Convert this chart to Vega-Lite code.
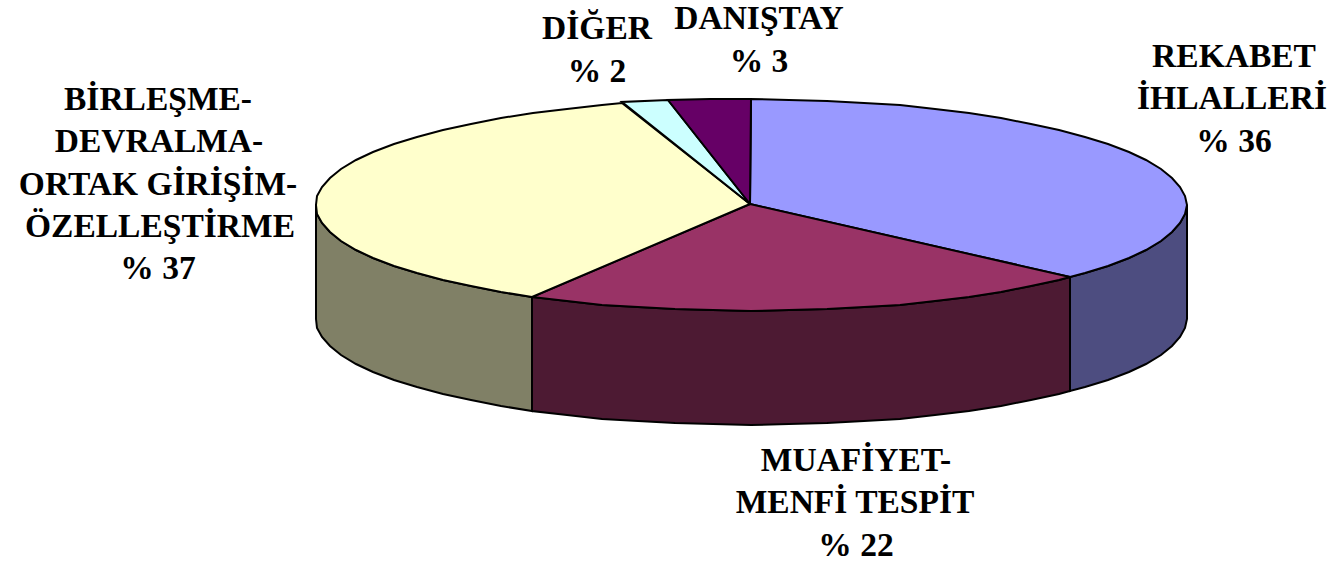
{"$schema":"https://vega.github.io/schema/vega-lite/v6.json","width":1333,"height":564,"padding":0,"autosize":{"type":"fit","contains":"padding"},"background":"white","view":{"stroke":null},"datasets":{"pie":[
{"p":"w1","n":1,"x":1187,"y":205},{"p":"w1","n":2,"x":1185,"y":214},{"p":"w1","n":3,"x":1180,"y":223},{"p":"w1","n":4,"x":1172,"y":232},{"p":"w1","n":5,"x":1161,"y":241},{"p":"w1","n":6,"x":1146,"y":250},{"p":"w1","n":7,"x":1129,"y":258},{"p":"w1","n":8,"x":1108,"y":266},{"p":"w1","n":9,"x":1085,"y":273},{"p":"w1","n":10,"x":1070,"y":277},{"p":"w1","n":11,"x":1070,"y":391},{"p":"w1","n":12,"x":1085,"y":387},{"p":"w1","n":13,"x":1108,"y":380},{"p":"w1","n":14,"x":1129,"y":372},{"p":"w1","n":15,"x":1146,"y":364},{"p":"w1","n":16,"x":1161,"y":355},{"p":"w1","n":17,"x":1172,"y":346},{"p":"w1","n":18,"x":1180,"y":337},{"p":"w1","n":19,"x":1185,"y":328},{"p":"w1","n":20,"x":1187,"y":319},{"p":"w1","n":21,"x":1187,"y":205},
{"p":"w2","n":1,"x":1070,"y":277},{"p":"w2","n":2,"x":1059,"y":280},{"p":"w2","n":3,"x":1031,"y":286},{"p":"w2","n":4,"x":1001,"y":292},{"p":"w2","n":5,"x":969,"y":297},{"p":"w2","n":6,"x":935,"y":301},{"p":"w2","n":7,"x":900,"y":305},{"p":"w2","n":8,"x":864,"y":307},{"p":"w2","n":9,"x":827,"y":309},{"p":"w2","n":10,"x":789,"y":310},{"p":"w2","n":11,"x":751,"y":311},{"p":"w2","n":12,"x":713,"y":310},{"p":"w2","n":13,"x":675,"y":309},{"p":"w2","n":14,"x":638,"y":307},{"p":"w2","n":15,"x":602,"y":305},{"p":"w2","n":16,"x":567,"y":301},{"p":"w2","n":17,"x":532,"y":297},{"p":"w2","n":18,"x":532,"y":411},{"p":"w2","n":19,"x":567,"y":415},{"p":"w2","n":20,"x":602,"y":419},{"p":"w2","n":21,"x":638,"y":421},{"p":"w2","n":22,"x":675,"y":423},{"p":"w2","n":23,"x":713,"y":424},{"p":"w2","n":24,"x":751,"y":425},{"p":"w2","n":25,"x":789,"y":424},{"p":"w2","n":26,"x":827,"y":423},{"p":"w2","n":27,"x":864,"y":421},{"p":"w2","n":28,"x":900,"y":419},{"p":"w2","n":29,"x":935,"y":415},{"p":"w2","n":30,"x":969,"y":411},{"p":"w2","n":31,"x":1001,"y":406},{"p":"w2","n":32,"x":1031,"y":400},{"p":"w2","n":33,"x":1059,"y":394},{"p":"w2","n":34,"x":1070,"y":391},{"p":"w2","n":35,"x":1070,"y":277},
{"p":"w3","n":1,"x":532,"y":297},{"p":"w3","n":2,"x":501,"y":292},{"p":"w3","n":3,"x":471,"y":286},{"p":"w3","n":4,"x":443,"y":280},{"p":"w3","n":5,"x":417,"y":273},{"p":"w3","n":6,"x":394,"y":266},{"p":"w3","n":7,"x":373,"y":258},{"p":"w3","n":8,"x":356,"y":250},{"p":"w3","n":9,"x":341,"y":241},{"p":"w3","n":10,"x":330,"y":232},{"p":"w3","n":11,"x":322,"y":223},{"p":"w3","n":12,"x":317,"y":214},{"p":"w3","n":13,"x":316,"y":205},{"p":"w3","n":14,"x":316,"y":319},{"p":"w3","n":15,"x":317,"y":328},{"p":"w3","n":16,"x":322,"y":337},{"p":"w3","n":17,"x":330,"y":346},{"p":"w3","n":18,"x":341,"y":355},{"p":"w3","n":19,"x":356,"y":364},{"p":"w3","n":20,"x":373,"y":372},{"p":"w3","n":21,"x":394,"y":380},{"p":"w3","n":22,"x":417,"y":387},{"p":"w3","n":23,"x":443,"y":394},{"p":"w3","n":24,"x":471,"y":400},{"p":"w3","n":25,"x":501,"y":406},{"p":"w3","n":26,"x":532,"y":411},{"p":"w3","n":27,"x":532,"y":297},
{"p":"t1","n":1,"x":750,"y":204},{"p":"t1","n":2,"x":751,"y":99},{"p":"t1","n":3,"x":789,"y":100},{"p":"t1","n":4,"x":827,"y":101},{"p":"t1","n":5,"x":864,"y":103},{"p":"t1","n":6,"x":900,"y":105},{"p":"t1","n":7,"x":935,"y":109},{"p":"t1","n":8,"x":969,"y":113},{"p":"t1","n":9,"x":1001,"y":118},{"p":"t1","n":10,"x":1031,"y":124},{"p":"t1","n":11,"x":1059,"y":130},{"p":"t1","n":12,"x":1085,"y":137},{"p":"t1","n":13,"x":1108,"y":144},{"p":"t1","n":14,"x":1129,"y":152},{"p":"t1","n":15,"x":1146,"y":160},{"p":"t1","n":16,"x":1161,"y":169},{"p":"t1","n":17,"x":1172,"y":178},{"p":"t1","n":18,"x":1180,"y":187},{"p":"t1","n":19,"x":1185,"y":196},{"p":"t1","n":20,"x":1187,"y":205},{"p":"t1","n":21,"x":1185,"y":214},{"p":"t1","n":22,"x":1180,"y":223},{"p":"t1","n":23,"x":1172,"y":232},{"p":"t1","n":24,"x":1161,"y":241},{"p":"t1","n":25,"x":1146,"y":250},{"p":"t1","n":26,"x":1129,"y":258},{"p":"t1","n":27,"x":1108,"y":266},{"p":"t1","n":28,"x":1085,"y":273},{"p":"t1","n":29,"x":1070,"y":277},{"p":"t1","n":30,"x":750,"y":204},
{"p":"t2","n":1,"x":750,"y":204},{"p":"t2","n":2,"x":1070,"y":277},{"p":"t2","n":3,"x":1059,"y":280},{"p":"t2","n":4,"x":1031,"y":286},{"p":"t2","n":5,"x":1001,"y":292},{"p":"t2","n":6,"x":969,"y":297},{"p":"t2","n":7,"x":935,"y":301},{"p":"t2","n":8,"x":900,"y":305},{"p":"t2","n":9,"x":864,"y":307},{"p":"t2","n":10,"x":827,"y":309},{"p":"t2","n":11,"x":789,"y":310},{"p":"t2","n":12,"x":751,"y":311},{"p":"t2","n":13,"x":713,"y":310},{"p":"t2","n":14,"x":675,"y":309},{"p":"t2","n":15,"x":638,"y":307},{"p":"t2","n":16,"x":602,"y":305},{"p":"t2","n":17,"x":567,"y":301},{"p":"t2","n":18,"x":532,"y":297},{"p":"t2","n":19,"x":750,"y":204},
{"p":"t3","n":1,"x":750,"y":204},{"p":"t3","n":2,"x":532,"y":297},{"p":"t3","n":3,"x":501,"y":292},{"p":"t3","n":4,"x":471,"y":286},{"p":"t3","n":5,"x":443,"y":280},{"p":"t3","n":6,"x":417,"y":273},{"p":"t3","n":7,"x":394,"y":266},{"p":"t3","n":8,"x":373,"y":258},{"p":"t3","n":9,"x":356,"y":250},{"p":"t3","n":10,"x":341,"y":241},{"p":"t3","n":11,"x":330,"y":232},{"p":"t3","n":12,"x":322,"y":223},{"p":"t3","n":13,"x":317,"y":214},{"p":"t3","n":14,"x":316,"y":205},{"p":"t3","n":15,"x":317,"y":196},{"p":"t3","n":16,"x":322,"y":187},{"p":"t3","n":17,"x":330,"y":178},{"p":"t3","n":18,"x":341,"y":169},{"p":"t3","n":19,"x":356,"y":160},{"p":"t3","n":20,"x":373,"y":152},{"p":"t3","n":21,"x":394,"y":144},{"p":"t3","n":22,"x":417,"y":137},{"p":"t3","n":23,"x":443,"y":130},{"p":"t3","n":24,"x":471,"y":124},{"p":"t3","n":25,"x":501,"y":118},{"p":"t3","n":26,"x":533,"y":113},{"p":"t3","n":27,"x":567,"y":109},{"p":"t3","n":28,"x":602,"y":105},{"p":"t3","n":29,"x":622,"y":103},{"p":"t3","n":30,"x":750,"y":204},
{"p":"t4","n":1,"x":750,"y":204},{"p":"t4","n":2,"x":622,"y":102},{"p":"t4","n":3,"x":668,"y":100},{"p":"t4","n":4,"x":750,"y":204},
{"p":"t5","n":1,"x":750,"y":204},{"p":"t5","n":2,"x":668,"y":100},{"p":"t5","n":3,"x":710,"y":99},{"p":"t5","n":4,"x":751,"y":99},{"p":"t5","n":5,"x":750,"y":204}
],"labels":[
{"t":"DANIŞTAY","x":759,"y":29},{"t":"% 3","x":759,"y":72},{"t":"DİĞER","x":597,"y":39},{"t":"% 2","x":597,"y":82},
{"t":"REKABET","x":1234,"y":67},{"t":"İHLALLERİ","x":1232,"y":109},{"t":"% 36","x":1234,"y":152},
{"t":"BİRLEŞME-","x":158,"y":110},{"t":"DEVRALMA-","x":159,"y":152},{"t":"ORTAK GİRİŞİM-","x":158,"y":195},{"t":"ÖZELLEŞTİRME","x":160,"y":237},{"t":"% 37","x":158,"y":279},
{"t":"MUAFİYET-","x":856,"y":471},{"t":"MENFİ TESPİT","x":855,"y":513},{"t":"% 22","x":856,"y":556}
]},
"layer":[
{"data":{"name":"pie"},"mark":{"type":"line","strokeWidth":2,"clip":false},"encoding":{
"x":{"field":"x","type":"quantitative","scale":{"domain":[0,1333]},"axis":null},
"y":{"field":"y","type":"quantitative","scale":{"domain":[564,0]},"axis":null},
"order":{"field":"n","type":"quantitative"},
"detail":{"field":"p"},
"fill":{"field":"p","type":"nominal","legend":null,"scale":{"domain":["w1","w2","w3","t1","t2","t3","t4","t5"],"range":["#4D4D80","#4D1A33","#808066","#9999FF","#993366","#FFFFCC","#CCFFFF","#660066"]}},
"stroke":{"value":"#000000"}}},
{"data":{"name":"labels"},"mark":{"type":"text","font":"Liberation Serif","fontWeight":"bold","fontSize":33.5,"align":"center","baseline":"alphabetic","color":"#000000"},"encoding":{
"x":{"field":"x","type":"quantitative","scale":{"domain":[0,1333]},"axis":null},
"y":{"field":"y","type":"quantitative","scale":{"domain":[564,0]},"axis":null},
"text":{"field":"t","type":"nominal"}}}
]}
